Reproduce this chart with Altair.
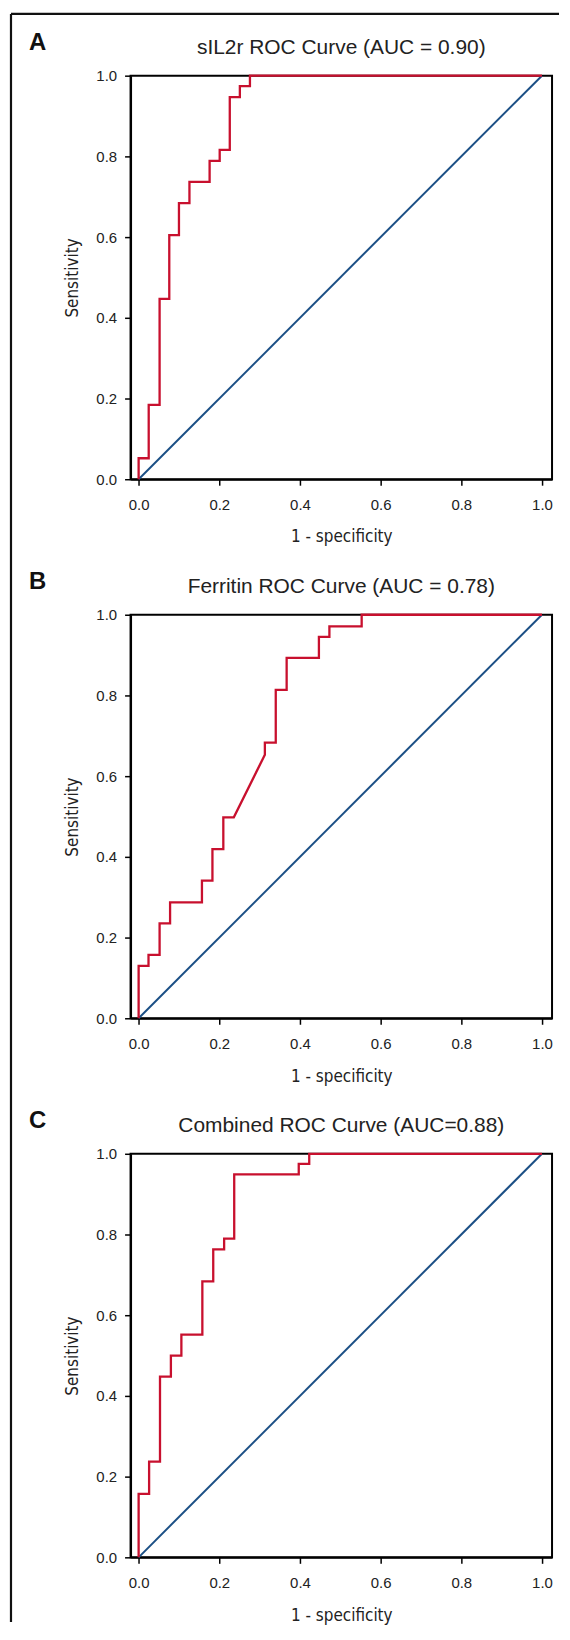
import altair as alt
import pandas as pd

# ---------------- data ----------------
titles = ["sIL2r ROC Curve (AUC = 0.90)",
          "Ferritin ROC Curve (AUC = 0.78)",
          "Combined ROC Curve (AUC=0.88)"]
letters = ["A", "B", "C"]
tick_values = [0.0, 0.2, 0.4, 0.6, 0.8, 1.0]

a_fpr = [0, 0, 0.025, 0.025, 0.052, 0.052, 0.076, 0.076, 0.100, 0.100, 0.126, 0.126,
         0.176, 0.176, 0.201, 0.201, 0.226, 0.226, 0.251, 0.251, 0.276, 0.276, 1.0]
a_tpr = [0, 0.052, 0.052, 0.184, 0.184, 0.447, 0.447, 0.605, 0.605, 0.684, 0.684, 0.737,
         0.737, 0.789, 0.789, 0.816, 0.816, 0.947, 0.947, 0.974, 0.974, 1.0, 1.0]

b_fpr = [0, 0, 0.0245, 0.0245, 0.052, 0.052, 0.078, 0.078, 0.157, 0.157, 0.183, 0.183,
         0.210, 0.210, 0.236, 0.313, 0.313, 0.340, 0.340, 0.367, 0.367, 0.447, 0.447,
         0.473, 0.473, 0.553, 0.553, 1.0]
b_tpr = [0, 0.130, 0.130, 0.157, 0.157, 0.235, 0.235, 0.287, 0.287, 0.341, 0.341, 0.419,
         0.419, 0.498, 0.498, 0.653, 0.683, 0.683, 0.814, 0.814, 0.893, 0.893, 0.945,
         0.945, 0.971, 0.971, 1.0, 1.0]

c_fpr = [0, 0, 0.026, 0.026, 0.053, 0.053, 0.080, 0.080, 0.106, 0.106, 0.158, 0.158,
         0.185, 0.185, 0.212, 0.212, 0.237, 0.237, 0.397, 0.397, 0.423, 0.423, 1.0]
c_tpr = [0, 0.157, 0.157, 0.237, 0.237, 0.448, 0.448, 0.5, 0.5, 0.552, 0.552, 0.684,
         0.684, 0.763, 0.763, 0.790, 0.790, 0.949, 0.949, 0.975, 0.975, 1.0, 1.0]

ref_fpr = [0.0, 1.0]
ref_tpr = [0.0, 1.0]

curves = [(a_fpr, a_tpr), (b_fpr, b_tpr), (c_fpr, c_tpr)]

# ---------------- style ----------------
RED = "#c8102e"
BLUE = "#1b4f85"
W, H = 423, 405
LABEL_FONT = "Liberation Sans, Arial, Helvetica, sans-serif"
TITLE_FONT = "DejaVu Sans Condensed, Liberation Sans Narrow, sans-serif"

xscale = alt.Scale(domain=[-0.02, 1.025], nice=False, zero=False)
yscale = alt.Scale(domain=[0, 1], nice=False, zero=False)
xaxis = alt.Axis(values=tick_values, format=".1f", title="1 - specificity",
                 labelPadding=12, titlePadding=17)
yaxis = alt.Axis(values=tick_values, format=".1f", title="Sensitivity",
                 labelPadding=8, titlePadding=14)

one = pd.DataFrame({"k": [0]})


def panel(i, with_border=False):
    fpr, tpr = curves[i]
    df = pd.DataFrame({"fpr": fpr, "tpr": tpr, "i": list(range(len(fpr)))})
    ref = pd.DataFrame({"fpr": ref_fpr, "tpr": ref_tpr, "i": [0, 1]})

    diag = alt.Chart(ref).mark_line(color=BLUE, strokeWidth=2).encode(
        x=alt.X("fpr:Q", scale=xscale, axis=xaxis),
        y=alt.Y("tpr:Q", scale=yscale, axis=yaxis),
        order="i:Q",
    )
    roc = alt.Chart(df).mark_line(color=RED, strokeWidth=2.3).encode(
        x=alt.X("fpr:Q", scale=xscale, axis=xaxis),
        y=alt.Y("tpr:Q", scale=yscale, axis=yaxis),
        order="i:Q",
    )
    letter = alt.Chart(one).mark_text(
        align="left", baseline="alphabetic", fontSize=24, fontWeight="bold",
        font=LABEL_FONT, color="#111"
    ).encode(x=alt.value(-102), y=alt.value(-26), text=alt.value(letters[i]))
    title = alt.Chart(one).mark_text(
        align="center", baseline="alphabetic", fontSize=21, font=LABEL_FONT,
        color="#222"
    ).encode(x=alt.value(W / 2), y=alt.value(-22), text=alt.value(titles[i]))

    layers = [diag, roc, letter, title]
    if with_border:
        top = alt.Chart(one).mark_rule(color="#111", strokeWidth=2.2).encode(
            x=alt.value(-120), x2=alt.value(430), y=alt.value(-62))
        left = alt.Chart(one).mark_rule(color="#111", strokeWidth=2.2).encode(
            x=alt.value(-120), y=alt.value(-62), y2=alt.value(1552))
        layers += [top, left]

    return alt.layer(*layers).properties(width=W, height=H)


chart = alt.vconcat(
    panel(0, True), panel(1), panel(2), spacing=136, bounds="flush"
).properties(
    padding=0, background="white"
).configure_view(
    stroke="black", strokeWidth=2
).configure_axis(
    grid=False, domainColor="black", domainWidth=2, tickColor="black", tickWidth=1.5,
    tickSize=6, labelFont=LABEL_FONT, labelFontSize=15, labelColor="#222",
    titleFont=TITLE_FONT, titleFontSize=17, titleFontWeight="normal", titleColor="#222",
)

chart.save("out.html", embed_options={"renderer": "svg", "actions": False})
